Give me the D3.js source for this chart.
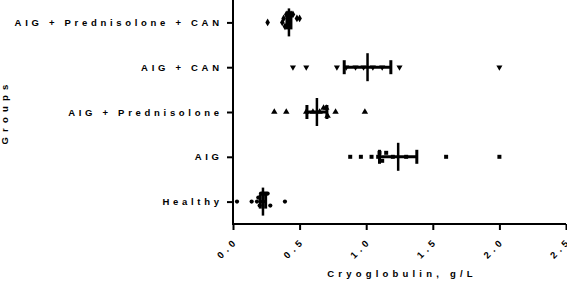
<!DOCTYPE html>
<html>
<head>
<meta charset="utf-8">
<script src="https://cdn.jsdelivr.net/npm/d3@7"></script>
<style>
  html, body { margin: 0; padding: 0; background: #fff; }
  svg { display: block; font-family: "Liberation Sans", Arial, sans-serif; font-weight: bold; }
</style>
</head>
<body>
<svg id="chart"></svg>
<script>
// groups from top to bottom
const groups = ["AIG + Prednisolone + CAN", "AIG + CAN", "AIG + Prednisolone", "AIG", "Healthy"];
const shapes = [d3.symbolDiamond, "down", d3.symbolTriangle, d3.symbolSquare, d3.symbolCircle];

// individual values, g/L
const aigPredCan = [0.26, 0.37, 0.38, 0.39, 0.40, 0.41, 0.42, 0.43, 0.44, 0.45, 0.48, 0.50];
const aigCan = [0.45, 0.55, 0.78, 0.85, 0.92, 0.98, 1.05, 1.12, 1.25, 2.0];
const aigPred = [0.31, 0.40, 0.55, 0.60, 0.65, 0.68, 0.70, 0.71, 0.77, 0.99];
const aig = [0.88, 0.96, 1.04, 1.09, 1.10, 1.12, 1.15, 1.20, 1.30, 1.60, 2.0];
const healthy = [0.03, 0.14, 0.18, 0.19, 0.20, 0.21, 0.22, 0.23, 0.24, 0.25, 0.26, 0.28, 0.39];

// mean and SEM per group (same order as groups)
const means = [0.42, 1.01, 0.63, 1.24, 0.225];
const sems = [0.015, 0.175, 0.075, 0.14, 0.02];

const xTicks = [0, 0.5, 1.0, 1.5, 2.0, 2.5];

const values = [aigPredCan, aigCan, aigPred, aig, healthy];

const width = 567, height = 289;
const marginLeft = 233, marginTop = 0, marginRight = 1, plotBottom = 224;

const svg = d3.select("#chart")
  .attr("width", width)
  .attr("height", height)
  .attr("viewBox", [0, 0, width, height]);

const x = d3.scaleLinear([0, 2.5], [marginLeft, width - marginRight]);
const y = d3.scalePoint(groups, [marginTop, plotBottom]).padding(0.5);

// points, spread vertically where they overlap
const pts = [];
values.forEach((arr, gi) => {
  const placed = [];
  arr.forEach(v => {
    const k = placed.filter(p => Math.abs(p - v) < 0.035).length;
    placed.push(v);
    const off = k === 0 ? 0 : (k % 2 ? -1 : 1) * Math.ceil(k / 2) * 4;
    pts.push({g: gi, v, off});
  });
});

const symbolPath = gi => {
  const s = shapes[gi];
  if (s === "down") return d3.symbol(d3.symbolTriangle, 16)();
  if (s === d3.symbolCircle) return d3.symbol(s, 14)();
  if (s === d3.symbolSquare) return d3.symbol(s, 16)();
  return d3.symbol(s, 18)();
};

svg.append("g")
  .selectAll("path")
  .data(pts)
  .join("path")
    .attr("d", d => symbolPath(d.g))
    .attr("transform", d => `translate(${x(d.v)},${y(groups[d.g]) + d.off})${shapes[d.g] === "down" ? " rotate(180)" : ""}`)
    .attr("fill", "#000");

// mean + SEM bars
const eb = svg.append("g").attr("stroke", "#000").attr("fill", "none");
groups.forEach((g, i) => {
  const cy = y(g);
  eb.append("line")
    .attr("x1", x(means[i] - sems[i])).attr("x2", x(means[i] + sems[i]))
    .attr("y1", cy).attr("y2", cy).attr("stroke-width", 3);
  [means[i] - sems[i], means[i] + sems[i]].forEach(v => {
    eb.append("line")
      .attr("x1", x(v)).attr("x2", x(v))
      .attr("y1", cy - 7).attr("y2", cy + 7).attr("stroke-width", 3);
  });
  eb.append("line")
    .attr("x1", x(means[i])).attr("x2", x(means[i]))
    .attr("y1", cy - 14).attr("y2", cy + 14).attr("stroke-width", 2.5);
});

// x axis
svg.append("g")
  .attr("transform", `translate(0,${plotBottom})`)
  .call(d3.axisBottom(x).tickValues(xTicks).tickFormat(d3.format(".1f")).tickSizeOuter(0).tickSize(6))
  .call(g => g.selectAll("path, line").attr("stroke", "#000").attr("stroke-width", 2))
  .call(g => g.selectAll("text")
    .attr("fill", "#000")
    .attr("font-size", 9.5)
    .attr("letter-spacing", 4)
    .attr("x", 0).attr("y", 0).attr("dy", "0.35em")
    .attr("text-anchor", "end")
    .attr("transform", "translate(3,15) rotate(-45)"))
  .call(g => g.select(".domain").attr("d", `M${marginLeft - 1},0H${width - marginRight}`));

// y axis
svg.append("g")
  .attr("transform", `translate(${marginLeft},0)`)
  .call(d3.axisLeft(y).tickSizeOuter(0).tickSize(6).tickPadding(8))
  .call(g => g.selectAll("path, line").attr("stroke", "#000").attr("stroke-width", 2))
  .call(g => g.select(".domain").attr("d", `M0,0V${plotBottom + 1}`))
  .call(g => g.selectAll("text")
    .attr("fill", "#000")
    .attr("font-size", 9.5)
    .attr("letter-spacing", 3.7)
    .attr("dx", 3.7));

// axis titles
svg.append("text")
  .attr("x", (marginLeft + width) / 2 + 2)
  .attr("y", 277)
  .attr("text-anchor", "middle")
  .attr("font-size", 9.5)
  .attr("letter-spacing", 4.2)
  .text("Cryoglobulin, g/L");

svg.append("text")
  .attr("transform", `translate(8,${plotBottom / 2}) rotate(-90)`)
  .attr("text-anchor", "middle")
  .attr("font-size", 9.5)
  .attr("letter-spacing", 5.2)
  .text("Groups");
</script>
</body>
</html>
